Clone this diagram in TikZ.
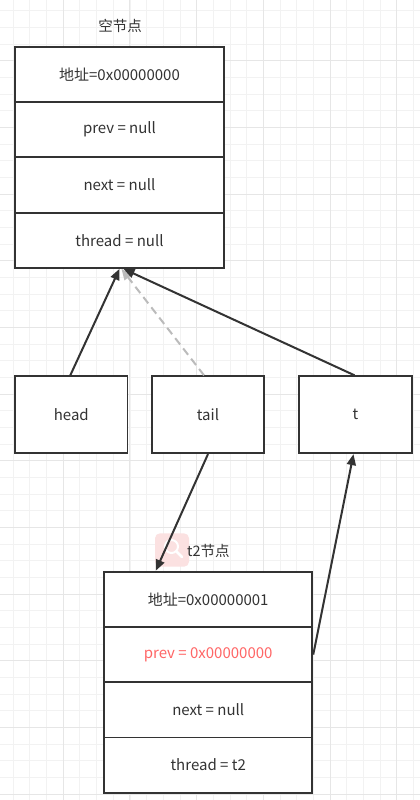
\documentclass[tikz,border=0pt]{standalone}
\usepackage{fontspec}
\setmainfont{Noto Sans CJK SC}
\usetikzlibrary{arrows.meta}
\definecolor{ink}{HTML}{333333}
\definecolor{txt}{HTML}{333333}
\definecolor{redtxt}{HTML}{FF6666}
\definecolor{gridminor}{HTML}{F2F2F2}
\definecolor{gridmajor}{HTML}{E6E6E6}
\definecolor{dashgray}{HTML}{BBBBBB}
\definecolor{iconpink}{HTML}{FBE1E1}
\begin{document}
\begin{tikzpicture}[x=1pt,y=-1pt,
  rowbox/.style={draw=ink, line width=1.8pt, fill=white, minimum width=209pt, minimum height=55.3pt, inner sep=0pt, font=\fontsize{15}{17}\selectfont, text=txt},
  ptrbox/.style={draw=ink, line width=1.8pt, fill=white, minimum width=112.5pt, minimum height=77pt, inner sep=0pt, font=\fontsize{15}{17}\selectfont, text=txt},
  lbl/.style={font=\fontsize{14.5}{16}\selectfont, text=txt, inner sep=0pt},
  arr/.style={draw=ink, line width=2pt, -{Triangle[length=11pt,width=9pt]}},
  dasharr/.style={draw=dashgray, line width=2pt, dash pattern=on 8pt off 5pt, -{Triangle[length=11pt,width=9pt]}}
]
\useasboundingbox (0,0) rectangle (420,800);
\fill[white] (0,0) rectangle (420,800);
% grid
\foreach \i in {0,...,25} {
  \draw[gridminor, line width=1pt] ({13.33+16.667*\i},0) -- ({13.33+16.667*\i},800);
}
\foreach \i in {0,...,47} {
  \draw[gridminor, line width=1pt] (0,{10.7+16.667*\i}) -- (420,{10.7+16.667*\i});
}
\foreach \i in {-1,...,6} {
  \draw[gridmajor, line width=1pt] ({63.33+66.667*\i},0) -- ({63.33+66.667*\i},800);
}
\foreach \i in {-1,...,11} {
  \draw[gridmajor, line width=1pt] (0,{60.7+66.667*\i}) -- (420,{60.7+66.667*\i});
}
% top node
\node[lbl] (toplbl) at (120,26) {空节点};
\node[rowbox] (a1) at (119.5,74.4) {地址=0x00000000};
\node[rowbox] (a2) at (119.5,129.7) {prev = null};
\node[rowbox] (a3) at (119.5,185.0) {next = null};
\node[rowbox] (a4) at (119.5,240.3) {thread = null};
% pointer boxes
\node[ptrbox] (head) at (71.3,414.7) {head};
\node[ptrbox] (tail) at (208,414.7) {tail};
\node[ptrbox] (t) at (355.5,414.7) {t};
% icon
\fill[iconpink, rounded corners=5pt] (155,533.3) rectangle (189,566.7);
\draw[white, line width=2pt] (171.5,546.5) circle (6.5pt);
\draw[white, line width=2.5pt, line cap=round] (176.5,551.5) -- (182,557);
% bottom node
\node[lbl] (botlbl) at (208.3,551) {t2节点};
\node[rowbox, minimum width=208.3pt, minimum height=55.25pt] (b1) at (208.2,599.3) {地址=0x00000001};
\node[rowbox, minimum width=208.3pt, minimum height=55.25pt, text=redtxt] (b2) at (208.2,654.6) {prev = 0x00000000};
\node[rowbox, minimum width=208.3pt, minimum height=55.25pt] (b3) at (208.2,709.8) {next = null};
\node[rowbox, minimum width=208.3pt, minimum height=55.25pt] (b4) at (208.2,765.1) {thread = t2};
% arrows
\draw[dasharr] ([xshift=-4pt]tail.north) -- ([xshift=2pt]a4.south);
\draw[arr] ([xshift=-1pt]head.north) -- (a4.south);
\draw[arr] ([xshift=-1pt]t.north) -- ([xshift=4pt]a4.south);
\draw[arr] (tail.south) -- ([xshift=-52.5pt]b1.north);
\draw[arr] (b2.east) -- ([xshift=-2pt]t.south);
\end{tikzpicture}
\end{document}
